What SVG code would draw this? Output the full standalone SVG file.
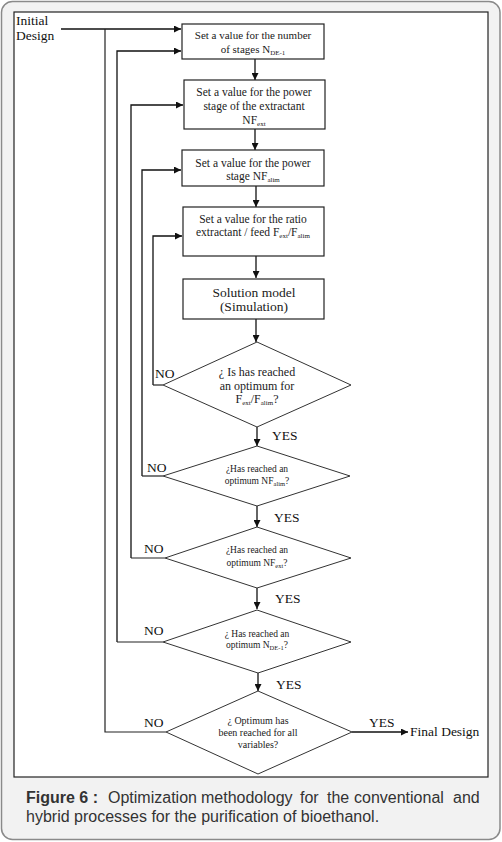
<svg xmlns="http://www.w3.org/2000/svg" width="502" height="842" viewBox="0 0 502 842">
<defs>
<marker id="ah" viewBox="0 0 10 10" refX="10" refY="5" markerWidth="7" markerHeight="7" markerUnits="userSpaceOnUse" orient="auto">
<path d="M0,0 L10,5 L0,10 z" fill="#111"/>
</marker>
<style>
.box{fill:#fff;stroke:#222;stroke-width:1.2}
.dia{fill:#fff;stroke:#333;stroke-width:1}
.ln{fill:none;stroke:#222;stroke-width:1.2}
.arr{fill:none;stroke:#111;stroke-width:1.3;marker-end:url(#ah)}
.t{font-family:"Liberation Serif","Times New Roman",serif;fill:#1a1a1a;text-anchor:middle}
.lab{font-family:"Liberation Serif","Times New Roman",serif;fill:#111;font-size:13.5px}
.cap{font-family:"Liberation Sans",Arial,sans-serif;fill:#333;font-size:16px}
</style>
</defs>
<rect x="1.5" y="1.5" width="498.5" height="838" rx="11" fill="#f2f2f2" stroke="#8a8a8a" stroke-width="1.5"/>
<rect x="14" y="12" width="474" height="765" fill="#fff" stroke="#222" stroke-width="1.2"/>

<g id="connectors">
<path class="arr" d="M61,29 H181"/>
<path class="ln" d="M105,29 V732 H166"/>
<path class="arr" d="M117,642 V51 H181"/>
<path class="ln" d="M117,642 H163"/>
<path class="arr" d="M131,558 V105 H183"/>
<path class="ln" d="M131,558 H165"/>
<path class="arr" d="M142,476 V170 H181"/>
<path class="ln" d="M142,476 H163"/>
<path class="arr" d="M153,385 V236 H182"/>
<path class="ln" d="M153,385 H163"/>
<path class="arr" d="M255,59 V80"/>
<path class="arr" d="M255,129 V150"/>
<path class="arr" d="M256,186 V207"/>
<path class="arr" d="M256,256 V278"/>
<path class="arr" d="M256,319 V342"/>
<path class="arr" d="M257,427 V446"/>
<path class="arr" d="M257,506 V527"/>
<path class="arr" d="M257,588 V609"/>
<path class="arr" d="M258,673 V691"/>
<path class="arr" d="M352,732 H408"/>
</g>

<g id="labels">
<text class="lab" x="16" y="25" font-size="15.5">Initial</text>
<text class="lab" x="16" y="40" font-size="15.5">Design</text>
<text class="lab" x="155" y="378">NO</text>
<text class="lab" x="147" y="472">NO</text>
<text class="lab" x="144" y="553">NO</text>
<text class="lab" x="144" y="635">NO</text>
<text class="lab" x="144" y="727">NO</text>
<text class="lab" x="272" y="440">YES</text>
<text class="lab" x="274" y="522">YES</text>
<text class="lab" x="275" y="603">YES</text>
<text class="lab" x="276" y="689">YES</text>
<text class="lab" x="369" y="727">YES</text>
<text class="lab" x="410" y="736" font-size="14">Final Design</text>
</g>

<g id="n1">
<rect class="box" x="182" y="24" width="142" height="35"/>
<text class="t" x="253" y="39" font-size="11">Set a value for the number</text>
<text class="t" x="253" y="53" font-size="11">of stages N<tspan font-size="7" dy="2">DE-1</tspan></text>
</g>
<g id="n2">
<rect class="box" x="184" y="80" width="141" height="49"/>
<text class="t" x="254" y="96" font-size="11.5">Set a value for the power</text>
<text class="t" x="254" y="110" font-size="11.5">stage of the extractant</text>
<text class="t" x="254" y="124" font-size="11.5">NF<tspan font-size="7" dy="2">ext</tspan></text>
</g>
<g id="n3">
<rect class="box" x="182" y="150" width="142" height="36"/>
<text class="t" x="253" y="167" font-size="11.5">Set a value for the power</text>
<text class="t" x="253" y="180" font-size="11.5">stage NF<tspan font-size="7" dy="2">alim</tspan></text>
</g>
<g id="n4">
<rect class="box" x="183" y="207" width="141" height="49"/>
<text class="t" x="253" y="223" font-size="11.5">Set a value for the ratio</text>
<text class="t" x="253" y="236" font-size="11.5">extractant / feed F<tspan font-size="7" dy="2">ext</tspan><tspan dy="-2">/F</tspan><tspan font-size="7" dy="2">alim</tspan></text>
</g>
<g id="n5">
<rect class="box" x="183" y="279" width="141" height="40"/>
<text class="t" x="254" y="297" font-size="13.5">Solution model</text>
<text class="t" x="254" y="311" font-size="13.5">(Simulation)</text>
</g>
<g id="d1">
<polygon class="dia" points="257,342 351,385 257,427 163,385"/>
<text class="t" x="257" y="376" font-size="12">¿ Is has reached</text>
<text class="t" x="257" y="390" font-size="12">an optimum for</text>
<text class="t" x="257" y="403" font-size="12">F<tspan font-size="7" dy="2">ext</tspan><tspan dy="-2">/F</tspan><tspan font-size="7" dy="2">alim</tspan><tspan dy="-2">?</tspan></text>
</g>
<g id="d2">
<polygon class="dia" points="257,446 350,476 257,506 163,476"/>
<text class="t" x="257" y="472" font-size="9.5">¿Has reached an</text>
<text class="t" x="257" y="484" font-size="9.5">optimum NF<tspan font-size="6.5" dy="1.5">alim</tspan><tspan dy="-1.5">?</tspan></text>
</g>
<g id="d3">
<polygon class="dia" points="257,527 351,558 257,588 165,558"/>
<text class="t" x="257" y="553" font-size="9.5">¿Has reached an</text>
<text class="t" x="257" y="566" font-size="9.5">optimum NF<tspan font-size="6.5" dy="1.5">ext</tspan><tspan dy="-1.5">?</tspan></text>
</g>
<g id="d4">
<polygon class="dia" points="257,610 351,642 258,673 163,642"/>
<text class="t" x="257" y="637" font-size="9.5">¿ Has reached an</text>
<text class="t" x="257" y="648" font-size="9.5">optimum N<tspan font-size="6.5" dy="1.5">DE-1</tspan><tspan dy="-1.5">?</tspan></text>
</g>
<g id="d5">
<polygon class="dia" points="258,691 352,732 258,774 166,732"/>
<text class="t" x="258" y="724" font-size="10">¿ Optimum has</text>
<text class="t" x="258" y="736" font-size="10">been reached for all</text>
<text class="t" x="258" y="748" font-size="10">variables?</text>
</g>

<g id="caption">
<text class="cap" y="803"><tspan x="26" font-weight="bold">Figure 6 :</tspan><tspan x="108">Optimization</tspan><tspan x="201">methodology</tspan><tspan x="300">for</tspan><tspan x="327">the</tspan><tspan x="354">conventional</tspan><tspan x="453">and</tspan></text>
<text class="cap" x="26" y="822">hybrid processes for the purification of bioethanol.</text>
</g>
</svg>
